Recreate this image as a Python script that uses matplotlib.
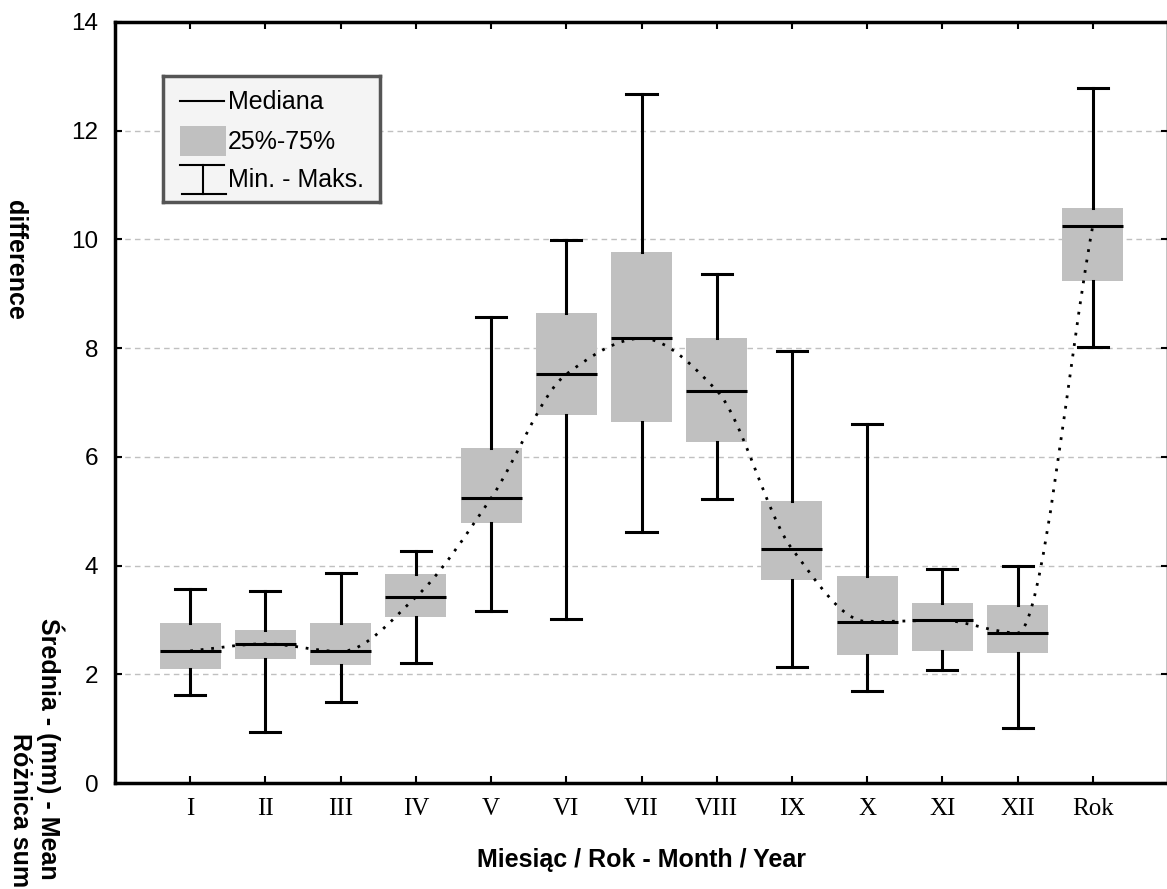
import matplotlib
matplotlib.use('Agg')
import matplotlib.pyplot as plt
import numpy as np
from matplotlib.path import Path
from matplotlib.patches import PathPatch, Rectangle

labels = ['I', 'II', 'III', 'IV', 'V', 'VI', 'VII', 'VIII', 'IX', 'X', 'XI', 'XII', 'Rok']
mins = [1.62, 0.94, 1.49, 2.21, 3.17, 3.02, 4.61, 5.22, 2.14, 1.69, 2.08, 1.01, 8.03]
q1 = [2.10, 2.29, 2.18, 3.06, 4.78, 6.77, 6.64, 6.27, 3.74, 2.36, 2.42, 2.40, 9.23]
med = [2.43, 2.56, 2.42, 3.42, 5.24, 7.52, 8.18, 7.22, 4.31, 2.97, 2.99, 2.76, 10.25]
q3 = [2.95, 2.81, 2.95, 3.84, 6.16, 8.64, 9.76, 8.18, 5.18, 3.81, 3.31, 3.27, 10.57]
maxs = [3.57, 3.53, 3.87, 4.27, 8.58, 9.99, 12.68, 9.37, 7.94, 6.60, 3.93, 3.99, 12.79]

W, H = 1167, 889
fig = plt.figure(figsize=(W / 100, H / 100), dpi=100)
ax = fig.add_axes([115 / W, 1 - 783 / H, (1168 - 115) / W, (783 - 22) / H])

pos = np.arange(1, len(labels) + 1)
stats = [dict(med=m, q1=a, q3=b, whislo=lo, whishi=hi, fliers=[])
         for m, a, b, lo, hi in zip(med, q1, q3, mins, maxs)]
ax.bxp(stats, positions=pos, widths=0.81, capwidths=0.4, patch_artist=True,
       boxprops=dict(facecolor='#c0c0c0', edgecolor='none'),
       medianprops=dict(color='black', lw=2.2),
       whiskerprops=dict(color='black', lw=2.2),
       capprops=dict(color='black', lw=2.2), zorder=2)

# smooth dotted line through the medians (monotone cubic drawn as Bezier path)
x = pos.astype(float)
y = np.array(med, dtype=float)
d = np.diff(y) / np.diff(x)
m = np.zeros_like(y)
m[0], m[-1] = d[0], d[-1]
for i in range(1, len(y) - 1):
    if d[i - 1] * d[i] > 0:
        m[i] = 2 / (1 / d[i - 1] + 1 / d[i])
verts = [(x[0], y[0])]
codes = [Path.MOVETO]
for i in range(len(x) - 1):
    h = x[i + 1] - x[i]
    verts += [(x[i] + h / 3, y[i] + m[i] * h / 3),
              (x[i + 1] - h / 3, y[i + 1] - m[i + 1] * h / 3),
              (x[i + 1], y[i + 1])]
    codes += [Path.CURVE4] * 3
ax.add_patch(PathPatch(Path(verts, codes), fill=False, color='black', lw=2,
                       linestyle=(0, (1, 2.8)), zorder=4))

ax.set_xlim(0, 14)
ax.set_ylim(0, 14)
ax.set_xticks(pos)
ax.set_xticklabels(labels, fontfamily='Liberation Serif', fontsize=18)
ax.set_yticks(np.arange(0, 15, 2))
ax.set_yticklabels([str(v) for v in range(0, 15, 2)], fontfamily='Liberation Sans', fontsize=17.5)
ax.tick_params(direction='in', length=5, width=1.5, top=True, right=True)
ax.tick_params(axis='x', pad=11)
ax.tick_params(axis='y', pad=12)
ax.yaxis.grid(True, color='#c0c0c0', linestyle=(0, (4, 3)), lw=1)
ax.set_axisbelow(True)
for s in ax.spines.values():
    s.set_linewidth(2.5)

ax.set_xlabel('Miesiąc / Rok - Month / Year', fontfamily='Liberation Sans',
              fontweight='bold', fontsize=18, labelpad=20)

# wrapped y label pieces as in the original
fig.text(15 / W, 1 - 260 / H, 'difference', rotation=270, ha='center', va='center',
         fontfamily='Liberation Sans', fontweight='bold', fontsize=18)
fig.text(50 / W, 1 - 749 / H, 'Średnia - (mm) - Mean', rotation=270, ha='center', va='center',
         fontfamily='Liberation Sans', fontweight='bold', fontsize=18)
fig.text(20 / W, 1 - 733 / H, 'Różnica sum', rotation=270, ha='center', va='top',
         fontfamily='Liberation Sans', fontweight='bold', fontsize=18)

# legend box
lg = fig.add_axes([163 / W, 1 - 202 / H, 217 / W, 126 / H])
lg.set_xlim(0, 217)
lg.set_ylim(126, 0)
lg.set_xticks([])
lg.set_yticks([])
lg.set_facecolor('#f4f4f4')
for s in lg.spines.values():
    s.set_linewidth(2.5)
    s.set_color('#555555')
lg.plot([17, 61], [25, 25], color='black', lw=1.5)
lg.add_patch(Rectangle((17, 50), 46, 30, facecolor='#c0c0c0', edgecolor='none'))
lg.plot([17, 61], [89, 89], color='black', lw=1.5)
lg.plot([40, 40], [89, 118], color='black', lw=1.5)
lg.plot([19, 63], [118, 118], color='black', lw=1.5)
for ty, txt in zip([26, 66, 104], ['Mediana', '25%-75%', 'Min. - Maks.']):
    lg.text(65, ty, txt, va='center', ha='left', fontfamily='Liberation Sans', fontsize=18)

fig.savefig('out.png', dpi=100)
